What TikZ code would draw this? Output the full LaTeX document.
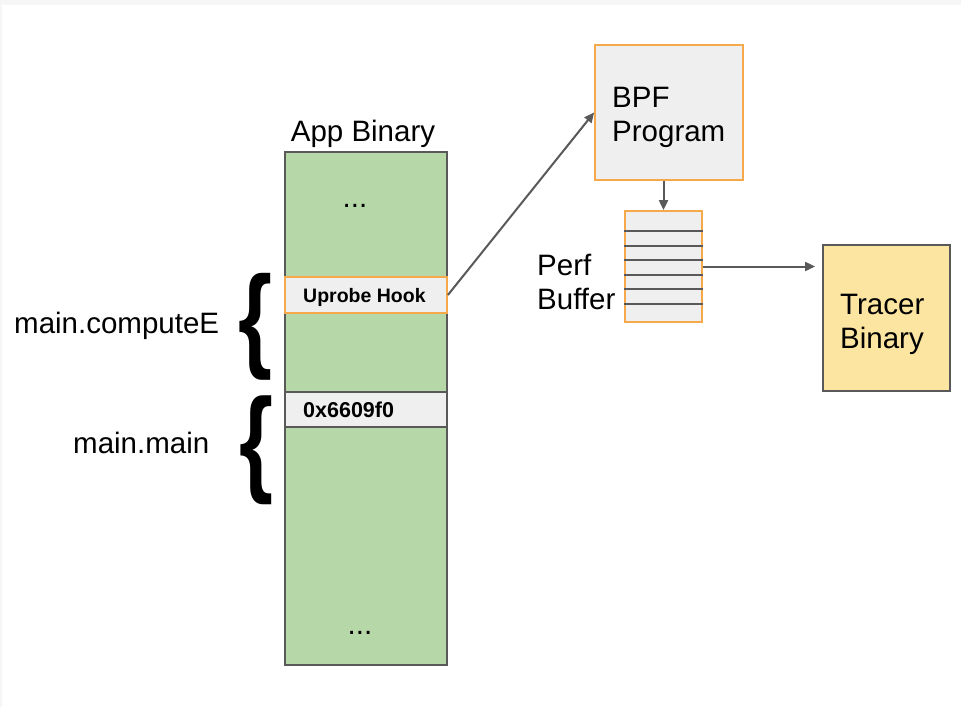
\documentclass[tikz,border=0pt]{standalone}
\usepackage{fontspec}
\setmainfont{Liberation Sans}
\usetikzlibrary{arrows.meta}
\definecolor{memgreen}{HTML}{B6D7A8}
\definecolor{edgegray}{HTML}{595959}
\definecolor{boxgray}{HTML}{EFEFEF}
\definecolor{hookorange}{HTML}{F6A94A}
\definecolor{tracery}{HTML}{FCE5A0}
\definecolor{framegray}{HTML}{F6F6F6}
\tikzset{
  x=1pt, y=-1pt,
  region/.style={draw=edgegray, line width=1.8pt, inner sep=0pt, rectangle},
  hookbox/.style={draw=hookorange, fill=boxgray, line width=1.8pt, inner sep=0pt, rectangle},
  bigtxt/.style={font=\fontsize{29.5}{34}\selectfont, inner sep=0pt, text=black},
  slottxt/.style={font=\fontsize{19.5}{22}\selectfont\bfseries, inner sep=0pt, text=black},
  flow/.style={draw=edgegray, line width=2pt, -{Triangle[length=10pt,width=9pt]}},
  bufline/.style={draw=edgegray, line width=2pt},
  bracetxt/.style={inner sep=0pt, text=black, font=\bfseries}
}
\begin{document}
\begin{tikzpicture}
% page frame
\fill[framegray] (0,0) rectangle (961,707);
\fill[white] (2,5) rectangle (961,707);
\useasboundingbox (0,0) rectangle (961,707);

% application binary memory column
\node[region, fill=memgreen, minimum width=162pt, minimum height=513pt] (app) at (366,408.5) {};
\node[bigtxt, anchor=base] (applabel) at (363,141) {App Binary};
\node[bigtxt, anchor=base] (dotstop) at (355,207) {...};
\node[bigtxt, anchor=base] (dotsbot) at (360,634) {...};

% slots inside the binary
\node[hookbox, minimum width=162pt, minimum height=36pt] (hook) at (366,295) {};
\node[slottxt, anchor=base west] (hooktxt) at (303,302) {Uprobe Hook};
\node[region, fill=boxgray, minimum width=162pt, minimum height=35pt] (addr) at (366,409.5) {};
\node[slottxt, font=\fontsize{21.5}{24}\selectfont\bfseries, anchor=base west] (addrtxt) at (303,417) {0x6609f0};

% function braces and names
\node[bracetxt] (brace1) at (256,326.5) {\resizebox*{34pt}{107pt}{\{}};
\node[bracetxt] (brace2) at (257,450.5) {\resizebox*{34pt}{109pt}{\{}};
\node[bigtxt, anchor=base west] (fn1) at (14,333) {main.computeE};
\node[bigtxt, anchor=base west] (fn2) at (73,453) {main.main};

% BPF program
\node[hookbox, minimum width=148pt, minimum height=135pt] (bpf) at (669,112.5) {};
\node[bigtxt, anchor=west, align=left] (bpftxt) at (612,117) {BPF\\Program};

% perf ring buffer
\node[hookbox, minimum width=77pt, minimum height=111pt] (perf) at (663.5,266.5) {};
\foreach \yy in {231,246,260,275,289,304}
  \draw[bufline] (perf.west |- 0,\yy) -- (perf.east |- 0,\yy);
\node[bigtxt, anchor=west, align=left] (perftxt) at (537,282) {Perf\\Buffer};

% tracer binary
\node[region, fill=tracery, minimum width=127pt, minimum height=146pt] (tracer) at (886.5,318) {};
\node[bigtxt, anchor=west, align=left] (tracertxt) at (840,324) {Tracer\\Binary};

% data flow
\draw[flow] (hook.east) -- (bpf.west);
\draw[flow] (perf.north |- bpf.south) -- (perf.north);
\draw[flow, shorten >=7pt] (perf.east) -- (tracer.west |- perf.east);
\end{tikzpicture}
\end{document}
